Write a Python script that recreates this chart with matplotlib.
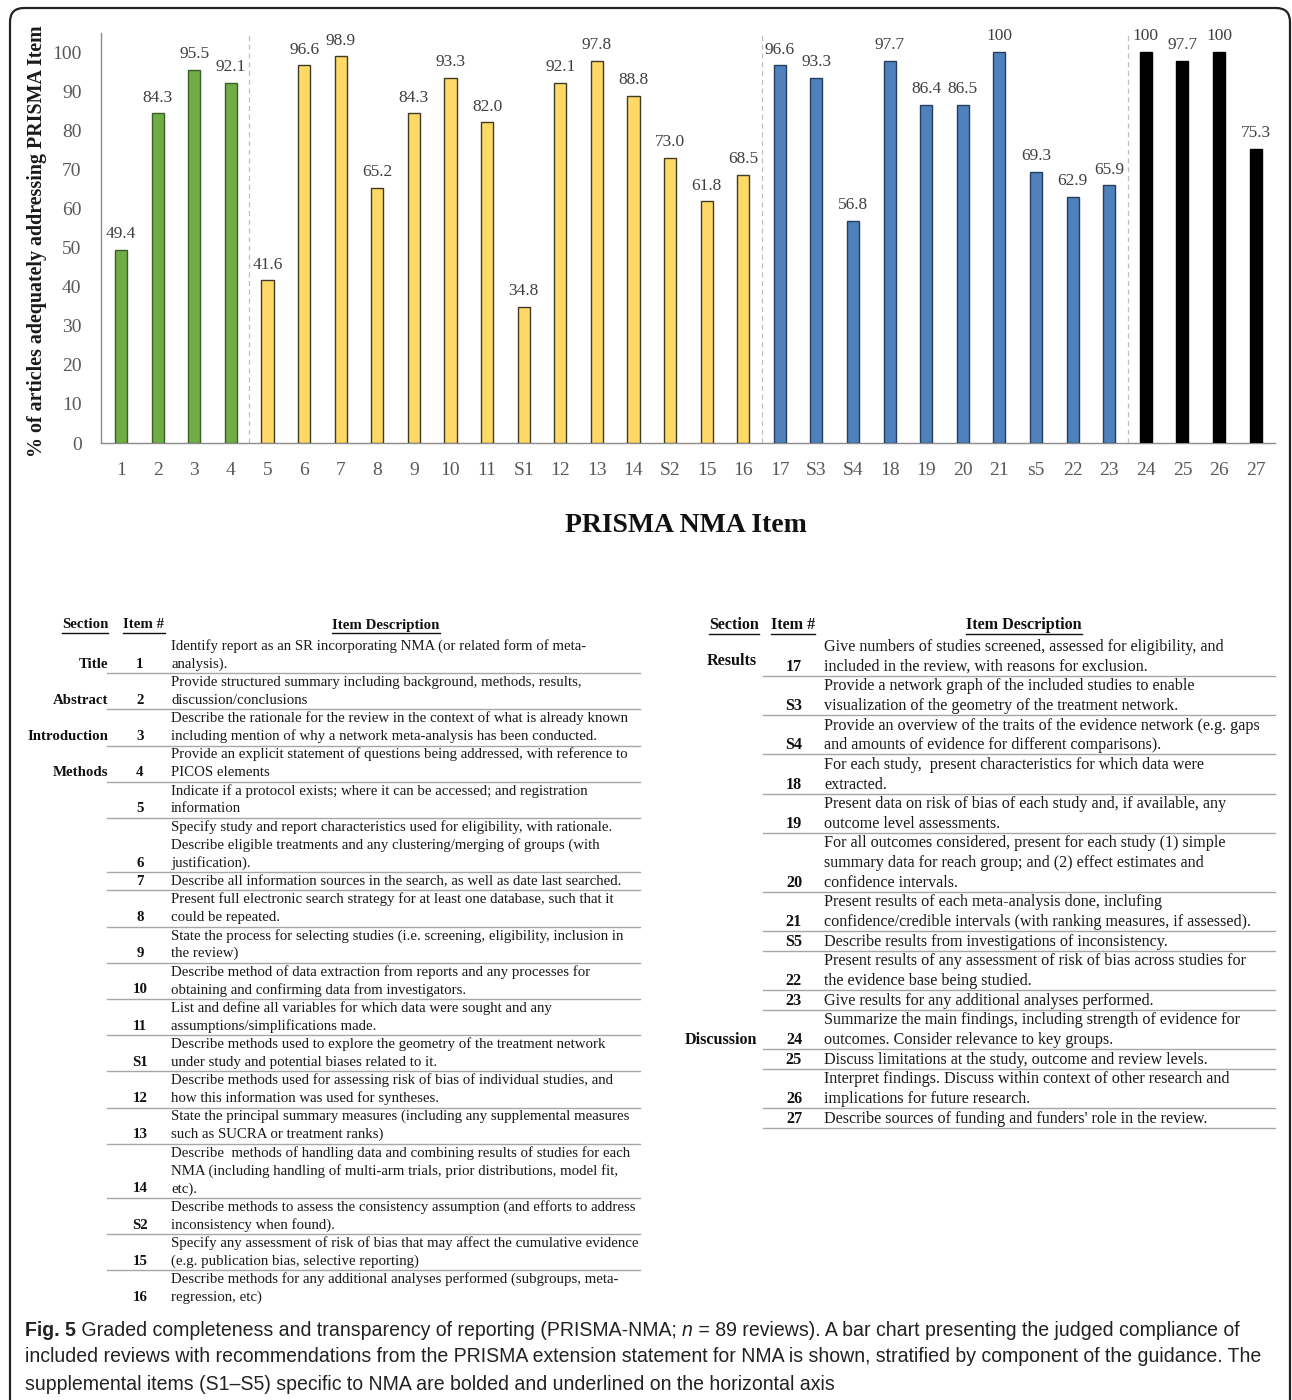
import matplotlib
matplotlib.use('Agg')
import matplotlib.pyplot as plt
from matplotlib.patches import FancyBboxPatch
from matplotlib import font_manager as fm

# ---------------- data ----------------
items = ['1', '2', '3', '4', '5', '6', '7', '8', '9', '10', '11', 'S1', '12', '13', '14', 'S2',
         '15', '16', '17', 'S3', 'S4', '18', '19', '20', '21', 's5', '22', '23', '24', '25', '26', '27']
values = [49.4, 84.3, 95.5, 92.1,
          41.6, 96.6, 98.9, 65.2, 84.3, 93.3, 82.0, 34.8, 92.1, 97.8, 88.8, 73.0, 61.8, 68.5,
          96.6, 93.3, 56.8, 97.7, 86.4, 86.5, 100, 69.3, 62.9, 65.9,
          100, 97.7, 100, 75.3]
group_sizes = [4, 14, 10, 4]
group_colors = ['#70AD47', '#FFD966', '#4F81BD', '#000000']
group_edges = ['#3B5E25', '#3F3A26', '#253D5E', '#000000']

left_sections = ['Title', 'Abstract', 'Introduction', 'Methods'] + [''] * 14
left_items = ['1', '2', '3', '4', '5', '6', '7', '8', '9', '10', '11', 'S1', '12', '13', '14', 'S2', '15', '16']
left_desc = [
    "Identify report as an SR incorporating NMA (or related form of meta-\nanalysis).",
    "Provide structured summary including background, methods, results,\ndiscussion/conclusions",
    "Describe the rationale for the review in the context of what is already known\nincluding mention of why a network meta-analysis has been conducted.",
    "Provide an explicit statement of questions being addressed, with reference to\nPICOS elements",
    "Indicate if a protocol exists; where it can be accessed; and registration\ninformation",
    "Specify study and report characteristics used for eligibility, with rationale.\nDescribe eligible treatments and any clustering/merging of groups (with\njustification).",
    "Describe all information sources in the search, as well as date last searched.",
    "Present full electronic search strategy for at least one database, such that it\ncould be repeated.",
    "State the process for selecting studies (i.e. screening, eligibility, inclusion in\nthe review)",
    "Describe method of data extraction from reports and any processes for\nobtaining and confirming data from investigators.",
    "List and define all variables for which data were sought and any\nassumptions/simplifications made.",
    "Describe methods used to explore the geometry of the treatment network\nunder study and potential biases related to it.",
    "Describe methods used for assessing risk of bias of individual studies, and\nhow this information was used for syntheses.",
    "State the principal summary measures (including any supplemental measures\nsuch as SUCRA or treatment ranks)",
    "Describe  methods of handling data and combining results of studies for each\nNMA (including handling of multi-arm trials, prior distributions, model fit,\netc).",
    "Describe methods to assess the consistency assumption (and efforts to address\ninconsistency when found).",
    "Specify any assessment of risk of bias that may affect the cumulative evidence\n(e.g. publication bias, selective reporting)",
    "Describe methods for any additional analyses performed (subgroups, meta-\nregression, etc)",
]

right_sections = ['Results'] + [''] * 9 + ['Discussion', '', '', '']
right_items = ['17', 'S3', 'S4', '18', '19', '20', '21', 'S5', '22', '23', '24', '25', '26', '27']
right_desc = [
    "Give numbers of studies screened, assessed for eligibility, and\nincluded in the review, with reasons for exclusion.",
    "Provide a network graph of the included studies to enable\nvisualization of the geometry of the treatment network.",
    "Provide an overview of the traits of the evidence network (e.g. gaps\nand amounts of evidence for different comparisons).",
    "For each study,  present characteristics for which data were\nextracted.",
    "Present data on risk of bias of each study and, if available, any\noutcome level assessments.",
    "For all outcomes considered, present for each study (1) simple\nsummary data for reach group; and (2) effect estimates and\nconfidence intervals.",
    "Present results of each meta-analysis done, inclufing\nconfidence/credible intervals (with ranking measures, if assessed).",
    "Describe results from investigations of inconsistency.",
    "Present results of any assessment of risk of bias across studies for\nthe evidence base being studied.",
    "Give results for any additional analyses performed.",
    "Summarize the main findings, including strength of evidence for\noutcomes. Consider relevance to key groups.",
    "Discuss limitations at the study, outcome and review levels.",
    "Interpret findings. Discuss within context of other research and\nimplications for future research.",
    "Describe sources of funding and funders' role in the review.",
]

caption_runs = [
    [("Fig. 5", 'bold', 'normal'), (" Graded completeness and transparency of reporting (PRISMA-NMA; ", 'normal', 'normal'),
     ("n", 'normal', 'italic'), (" = 89 reviews). A bar chart presenting the judged compliance of", 'normal', 'normal')],
    [("included reviews with recommendations from the PRISMA extension statement for NMA is shown, stratified by component of the guidance. The", 'normal', 'normal')],
    [("supplemental items (S1\u2013S5) specific to NMA are bolded and underlined on the horizontal axis", 'normal', 'normal')],
]

# ---------------- figure ----------------
SERIF = ['Liberation Serif', 'DejaVu Serif']
avail = {f.name for f in fm.fontManager.ttflist}
CAPF = ['Liberation Sans Narrow', 'Liberation Sans', 'DejaVu Sans'] if 'Liberation Sans Narrow' in avail else ['Liberation Sans', 'DejaVu Sans']
plt.rcParams['font.family'] = SERIF

W, H = 1292, 1400
fig = plt.figure(figsize=(W / 100, H / 100), dpi=100)


def fx(x):
    return x / W


def fy(y):
    return 1 - y / H


ymax = 105
ax = fig.add_axes([fx(101), fy(443), fx(1275) - fx(101), (443 - 32.5) / H])
x = list(range(len(items)))
colors, edges = [], []
for s, c, e in zip(group_sizes, group_colors, group_edges):
    colors += [c] * s
    edges += [e] * s
ax.bar(x, values, width=0.33, color=colors, edgecolor=edges, linewidth=1.0, zorder=3)
for xi, v in zip(x, values):
    lab = '100' if v == 100 else f'{v:.1f}'
    ax.text(xi, v + 2.0, lab, ha='center', va='bottom', fontsize=12.5, color='#404040')

# group separators
pos = -0.5
for s in group_sizes[:-1]:
    pos += s
    ax.axvline(pos, color='#BFBFBF', lw=0.9, ls=(0, (4, 3)), zorder=1)

ax.set_xlim(-0.55, 31.53)
ax.set_ylim(0, ymax)
ax.set_yticks(range(0, 101, 10))
ax.set_xticks(x)
ax.set_xticklabels(items)
ax.tick_params(axis='both', length=0, labelsize=14, labelcolor='#595959')
ax.tick_params(axis='x', pad=14)
ax.tick_params(axis='y', pad=14)
for sp in ['top', 'right']:
    ax.spines[sp].set_visible(False)
for sp in ['left', 'bottom']:
    ax.spines[sp].set_color('#8C8C8C')
    ax.spines[sp].set_linewidth(1.0)
fig.text(fx(37), fy(241), '% of articles adequately addressing PRISMA Item', rotation=90,
         ha='center', va='center', fontsize=14.4, fontweight='bold', color='#1A1A1A')
fig.text(fx(686), fy(525), 'PRISMA NMA Item', ha='center', va='center', fontsize=20,
         fontweight='bold', color='#111111')

# overlay for table + border
ov = fig.add_axes([0, 0, 1, 1])
ov.set_xlim(0, W)
ov.set_ylim(H, 0)
ov.axis('off')

border = FancyBboxPatch((10, 8), 1280, 1440, boxstyle='round,pad=0,rounding_size=14',
                        fc='none', ec='#222222', lw=1.6, clip_on=False)
ov.add_patch(border)

fig.canvas.draw()
renderer = fig.canvas.get_renderer()


def header(xc, y, s, fs):
    t = ov.text(xc, y, s, ha='center', va='center', fontsize=fs, fontweight='bold', color='#111111')
    bb = t.get_window_extent(renderer)
    x0, x1 = bb.x0, bb.x1
    yy = H - bb.y0 + 1
    ov.plot([x0, x1], [yy, yy], color='#111111', lw=1.0)


def table(sec_list, item_list, desc_list, y0, ls, fs, x_sec, x_item, x_desc, x_line0, x_line1,
          hdr_x, sec_offsets=None, last_line=True):
    header(hdr_x[0], 625, 'Section', fs)
    header(hdr_x[1], 625, 'Item #', fs)
    header(hdr_x[2], 625, 'Item Description', fs)
    y = y0
    n = len(item_list)
    for i, (s, it, d) in enumerate(zip(sec_list, item_list, desc_list)):
        lines = d.split('\n')
        for k, ln in enumerate(lines):
            ov.text(x_desc, y + k * ls, ln, ha='left', va='center', fontsize=fs, color='#1A1A1A')
        ylast = y + (len(lines) - 1) * ls
        ov.text(x_item, ylast, it, ha='center', va='center', fontsize=fs, fontweight='bold', color='#111111')
        if s:
            ys = ylast + (sec_offsets.get(s, 0) if sec_offsets else 0)
            ov.text(x_sec, ys, s, ha='right', va='center', fontsize=fs, fontweight='bold', color='#111111')
        if i < n - 1 or last_line:
            ov.plot([x_line0, x_line1], [ylast + 9, ylast + 9], color='#A6A6A6', lw=1.0)
        y = ylast + ls


table(left_sections, left_items, left_desc, 646, 18.1, 10.75, 108, 140, 171, 107, 640,
      (85, 144, 386), last_line=False)
table(right_sections, right_items, right_desc, 647, 19.65, 11.6, 757, 794, 824, 763, 1275,
      (734, 793, 1024), sec_offsets={'Results': -6})

# caption
cy = 1330
for runs in caption_runs:
    xx = 25
    for txt, wt, st in runs:
        t = ov.text(xx, cy, txt, ha='left', va='center', fontsize=14.05, fontweight=wt, fontstyle=st,
                    family=CAPF, color='#222222')
        bb = t.get_window_extent(renderer)
        xx += bb.width
    cy += 27

fig.savefig('out.png', dpi=100)
